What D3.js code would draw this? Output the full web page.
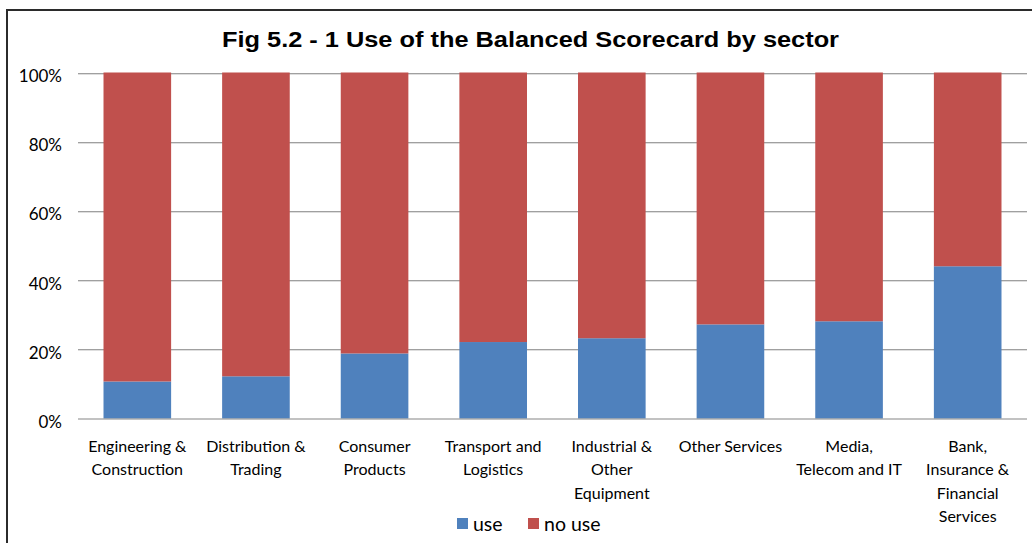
<!DOCTYPE html>
<html>
<head>
<meta charset="utf-8">
<script src="https://cdn.jsdelivr.net/npm/d3@7"></script>
<style>
  html, body { margin: 0; padding: 0; background: #fff; }
  svg { display: block; }
</style>
</head>
<body>
<svg id="chart" width="1032" height="543"></svg>
<script>
// ---- data ----
const categories = [
  "Engineering & Construction",
  "Distribution & Trading",
  "Consumer Products",
  "Transport and Logistics",
  "Industrial & Other Equipment",
  "Other Services",
  "Media, Telecom and IT",
  "Bank, Insurance & Financial Services"
];
const categoryLines = [
  ["Engineering &", "Construction"],
  ["Distribution &", "Trading"],
  ["Consumer", "Products"],
  ["Transport and", "Logistics"],
  ["Industrial &", "Other", "Equipment"],
  ["Other Services"],
  ["Media,", "Telecom and IT"],
  ["Bank,", "Insurance &", "Financial", "Services"]
];
const useValues   = [0.107, 0.122, 0.188, 0.221, 0.232, 0.272, 0.281, 0.440];
const noUseValues = useValues.map(v => 1 - v);
const seriesNames = ["use", "no use"];
const seriesColors = ["#4F81BD", "#C0504D"];
const yTicks = [0, 0.2, 0.4, 0.6, 0.8, 1.0];
const title = "Fig 5.2 - 1 Use of the Balanced Scorecard by sector";

// ---- layout ----
const svg = d3.select("#chart");
const plotLeft = 78, plotRight = 1027, plotTop = 72.5, plotBottom = 418.5;
const bodyFont = "Lato, Carlito, Calibri, 'Open Sans', sans-serif";

// frame
svg.append("path")
  .attr("d", `M7,545 L7,10 L1034,10`)
  .attr("fill", "none")
  .attr("stroke", "#2b2b2b")
  .attr("stroke-width", 2);

// title
svg.append("text")
  .attr("x", 222).attr("y", 46.5)
  .attr("font-family", "'Liberation Sans', Arial, sans-serif")
  .attr("font-weight", "bold")
  .attr("font-size", 22.5)
  .attr("textLength", 617)
  .attr("lengthAdjust", "spacingAndGlyphs")
  .attr("fill", "#000")
  .text(title);

const x = d3.scaleBand()
  .domain(categories)
  .range([plotLeft, plotRight])
  .paddingInner(0.43)
  .paddingOuter(0.215);

const y = d3.scaleLinear().domain([0, 1]).range([plotBottom, plotTop]);

// gridlines
const grid = svg.append("g");
yTicks.filter(t => t > 0).forEach(t => {
  grid.append("line")
    .attr("x1", plotLeft).attr("x2", plotRight)
    .attr("y1", Math.round(y(t)) + 1.5).attr("y2", Math.round(y(t)) + 1.5)
    .attr("stroke", "#dedede").attr("stroke-width", 1);
  grid.append("line")
    .attr("x1", plotLeft).attr("x2", plotRight)
    .attr("y1", Math.round(y(t)) + 0.5).attr("y2", Math.round(y(t)) + 0.5)
    .attr("stroke", "#a0a0a0").attr("stroke-width", 1);
});

// stacked bars
const rows = categories.map((c, i) => ({ cat: c, use: useValues[i], "no use": noUseValues[i] }));
const stack = d3.stack().keys(seriesNames)(rows);
svg.append("g").selectAll("g")
  .data(stack)
  .join("g")
  .attr("fill", (d, i) => seriesColors[i])
  .selectAll("rect")
  .data(d => d)
  .join("rect")
  .attr("x", d => x(d.data.cat))
  .attr("width", x.bandwidth())
  .attr("y", d => y(d[1]))
  .attr("height", d => y(d[0]) - y(d[1]));

// x axis line
svg.append("line")
  .attr("x1", plotLeft).attr("x2", plotRight)
  .attr("y1", plotBottom + 0.5).attr("y2", plotBottom + 0.5)
  .attr("stroke", "#868686").attr("stroke-width", 1.2);

// y axis labels
const yAxis = d3.axisLeft(y).tickValues(yTicks).tickFormat(d3.format(".0%")).tickSize(0).tickPadding(0);
const yG = svg.append("g").attr("transform", `translate(62,0)`).call(yAxis);
yG.select(".domain").remove();
yG.selectAll("text")
  .attr("font-family", bodyFont)
  .attr("font-size", 17)
  .attr("fill", "#000")
  .attr("dy", 9);

// x category labels
const xl = svg.append("g");
categories.forEach((c, i) => {
  const t = xl.append("text")
    .attr("x", x(c) + x.bandwidth() / 2)
    .attr("y", 452)
    .attr("text-anchor", "middle")
    .attr("font-family", bodyFont)
    .attr("font-size", 16)
    .attr("fill", "#000");
  categoryLines[i].forEach((ln, j) => {
    t.append("tspan")
      .attr("x", x(c) + x.bandwidth() / 2)
      .attr("y", 452 + j * 23.3)
      .text(ln);
  });
});

// legend
const legendItems = [
  { name: seriesNames[0], color: seriesColors[0], x: 457 },
  { name: seriesNames[1], color: seriesColors[1], x: 528 }
];
const lg = svg.append("g");
legendItems.forEach(it => {
  lg.append("rect").attr("x", it.x).attr("y", 518).attr("width", 11).attr("height", 11).attr("fill", it.color);
  lg.append("text").attr("x", it.x + 16).attr("y", 531)
    .attr("font-family", bodyFont).attr("font-size", 19.5).attr("fill", "#000")
    .text(it.name);
});
</script>
</body>
</html>
